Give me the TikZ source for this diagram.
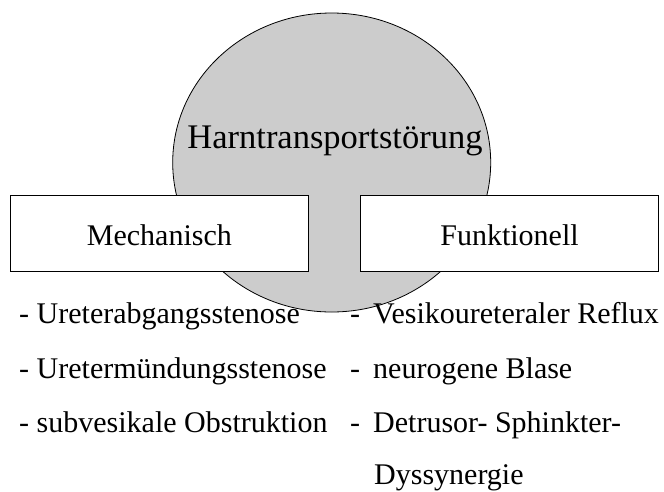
\documentclass[tikz,border=0pt]{standalone}
\usepackage{fontspec}
\setmainfont{Liberation Serif}
\usetikzlibrary{shapes.geometric}
\definecolor{blobgray}{RGB}{204,204,204}
\tikzset{
  blob/.style={ellipse, draw=black, line width=0.8pt, fill=blobgray, inner sep=0pt,
    minimum width=318pt, minimum height=299pt},
  catbox/.style={rectangle, draw=black, line width=0.8pt, fill=white, inner sep=0pt,
    minimum width=297.5pt, minimum height=76.7pt, text height=23.4pt, text depth=0pt,
    font=\fontsize{30}{36}\selectfont},
  titletext/.style={anchor=base, inner sep=0pt, font=\fontsize{34.5}{40}\selectfont},
  itemtext/.style={anchor=base west, inner sep=0pt, font=\fontsize{30}{36}\selectfont}
}
\begin{document}
\begin{tikzpicture}[x=1pt, y=-1pt]
\useasboundingbox (0,0) rectangle (664,491);
\node[blob] (circ) at (331.7,162.5) {};
\node[titletext] (title) at (335,148.3) {Harntransportstörung};
\node[catbox] (mech) at (159.4,233.4) {Mechanisch};
\node[catbox] (funk) at (509.5,233.4) {Funktionell};
% left list
\node[itemtext] (l1) at (19,323) {- Ureterabgangsstenose};
\node[itemtext] (l2) at (19,378) {- Uretermündungsstenose};
\node[itemtext] (l3) at (19,432) {- subvesikale Obstruktion};
% right list
\node[itemtext] (d1) at (350,323) {-};
\node[itemtext] (r1) at (373,323) {Vesikoureteraler Reflux};
\node[itemtext] (d2) at (350,378) {-};
\node[itemtext] (r2) at (373,378) {neurogene Blase};
\node[itemtext] (d3) at (350,432) {-};
\node[itemtext] (r3) at (373,432) {Detrusor- Sphinkter-};
\node[itemtext] (r4) at (374,484) {Dyssynergie};
\end{tikzpicture}
\end{document}
